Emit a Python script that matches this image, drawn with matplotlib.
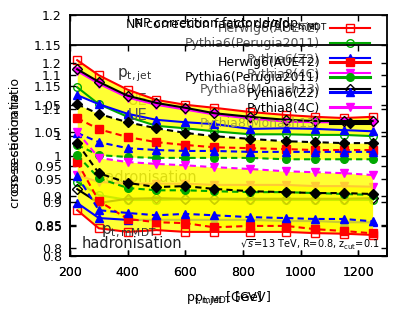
import numpy as np
import matplotlib.pyplot as plt
from matplotlib.lines import Line2D
from matplotlib.ticker import MultipleLocator, FormatStrFormatter

# bin centres [GeV]
pt = [225, 300, 400, 500, 600, 700, 825, 950, 1050, 1150, 1250]
generators = ["Herwig6(AUET2)", "Pythia6(Perugia2011)", "Pythia6(Z2)",
              "Pythia8(4C)", "Pythia8(Monash13)"]

# p_t,jet : UE correction (solid)
jet_ue_herwig = [1.125, 1.100, 1.076, 1.059, 1.051, 1.046, 1.039, 1.034, 1.031, 1.029, 1.031]
jet_ue_perugia = [1.080, 1.052, 1.031, 1.016, 1.012, 1.007, 1.002, 1.002, 1.001, 1.001, 0.999]
jet_ue_z2 = [1.067, 1.052, 1.036, 1.026, 1.022, 1.019, 1.011, 1.012, 1.011, 1.009, 1.007]
jet_ue_4c = [1.107, 1.086, 1.063, 1.051, 1.043, 1.035, 1.028, 1.023, 1.022, 1.022, 1.021]
jet_ue_monash = [1.110, 1.089, 1.066, 1.054, 1.046, 1.037, 1.031, 1.026, 1.024, 1.024, 1.024]

# p_t,jet : hadronisation correction (solid)
jet_had_herwig = [0.876, 0.846, 0.840, 0.843, 0.840, 0.840, 0.840, 0.840, 0.838, 0.837, 0.835]
jet_had_perugia = [0.923, 0.901, 0.893, 0.893, 0.894, 0.894, 0.893, 0.893, 0.893, 0.893, 0.893]
jet_had_z2 = [0.888, 0.863, 0.860, 0.860, 0.860, 0.860, 0.860, 0.858, 0.858, 0.856, 0.856]
jet_had_4c = [0.934, 0.923, 0.920, 0.920, 0.920, 0.918, 0.918, 0.918, 0.916, 0.916, 0.915]
jet_had_monash = [0.911, 0.888, 0.895, 0.896, 0.895, 0.895, 0.895, 0.895, 0.895, 0.895, 0.896]

# p_t,mMDT : UE correction (dashed)
mmdt_ue_herwig = [1.081, 1.057, 1.040, 1.029, 1.023, 1.018, 1.016, 1.014, 1.012, 1.012, 1.012]
mmdt_ue_perugia = [1.023, 1.001, 0.997, 0.995, 0.995, 0.995, 0.995, 0.992, 0.992, 0.992, 0.992]
mmdt_ue_z2 = [1.049, 1.029, 1.016, 1.012, 1.010, 1.010, 1.008, 1.008, 1.008, 1.008, 1.008]
mmdt_ue_monash = [1.111, 1.090, 1.072, 1.059, 1.049, 1.042, 1.036, 1.031, 1.029, 1.027, 1.027]

# p_t,mMDT : hadronisation correction (dashed)
mmdt_had_herwig = [0.986, 0.902, 0.863, 0.856, 0.854, 0.845, 0.848, 0.848, 0.841, 0.837, 0.832]
mmdt_had_perugia = [1.001, 0.951, 0.930, 0.925, 0.925, 0.923, 0.921, 0.921, 0.919, 0.917, 0.915]
mmdt_had_z2 = [0.956, 0.882, 0.876, 0.871, 0.874, 0.871, 0.867, 0.865, 0.863, 0.863, 0.858]
mmdt_had_4c = [1.051, 0.995, 0.986, 0.982, 0.979, 0.975, 0.971, 0.966, 0.964, 0.962, 0.958]
mmdt_had_monash = [1.027, 0.962, 0.941, 0.932, 0.934, 0.928, 0.923, 0.921, 0.919, 0.919, 0.917]

colors = ["#ff0000", "#00a800", "#0000ff", "#ff00ff", "#000000"]
markers = ["s", "o", "^", "v", "D"]
jet_open = ["none", "none", None, None, "none"]

W, H = 411, 319


def box(l, t, r, b):
    return [l / W, 1 - b / H, (r - l) / W, (b - t) / H]


def style(ax, ylim):
    ax.set_xlim(200, 1300)
    ax.set_ylim(*ylim)
    ax.xaxis.set_major_locator(MultipleLocator(200))
    ax.yaxis.set_major_locator(MultipleLocator(0.05))
    ax.yaxis.set_major_formatter(FormatStrFormatter('%g'))
    ax.tick_params(direction='in', top=True, right=True, length=4, width=1,
                   labelsize=9)
    ax.tick_params(axis='x', pad=7)
    ax.tick_params(axis='y', pad=6)
    for s in ax.spines.values():
        s.set_linewidth(1.3)
    ax.set_ylabel("cross-section ratio", fontsize=9)
    ax.yaxis.set_label_coords(-0.152, 0.5)


fig = plt.figure(figsize=(4.11, 3.19), dpi=100)
ax_jet = fig.add_axes(box(70, 15, 387, 256))
ax_mmdt = fig.add_axes(box(70, 45, 387, 256))
ax_mmdt.patch.set_alpha(0)

style(ax_jet, (0.8, 1.2))
style(ax_mmdt, (0.783, 1.239))
ax_jet.set_xlabel(r"p$_\mathregular{t,jet}$ [GeV]", fontsize=9, labelpad=8)
ax_mmdt.set_xlabel(r"p$_\mathregular{t,mMDT}$ [GeV]", fontsize=9, labelpad=8)

band = dict(color="#ffff00", alpha=0.8, lw=0, zorder=1)

# --- p_t,jet plot
jet_ue = [jet_ue_herwig, jet_ue_perugia, jet_ue_z2, jet_ue_4c, jet_ue_monash]
jet_had = [jet_had_herwig, jet_had_perugia, jet_had_z2, jet_had_4c, jet_had_monash]
ax_jet.text(0.148, 0.751, r"p$_\mathregular{t,jet}$", transform=ax_jet.transAxes,
            fontsize=11, va='center', color="#333333", zorder=0.5)
ax_jet.text(0.183, 0.647, "UE", transform=ax_jet.transAxes, fontsize=10.5,
            va='center', color="#555555", zorder=0.5)
ax_jet.text(0.085, 0.324, "hadronisation", transform=ax_jet.transAxes, fontsize=10.5,
            va='center', color="#555555", zorder=0.5)
ax_jet.fill_between(pt, np.max(jet_ue, axis=0), np.min(jet_ue, axis=0), **band)
ax_jet.fill_between(pt, np.max(jet_had, axis=0), np.min(jet_had, axis=0), **band)
for i in range(5):
    ax_jet.plot(pt, jet_ue[i], color=colors[i], marker=markers[i], ms=5.5,
                mfc=jet_open[i], lw=1.5, label=generators[i], zorder=3)
    ax_jet.plot(pt, jet_had[i], color=colors[i], marker=markers[i], ms=5.5,
                mfc=jet_open[i], lw=1.5, zorder=3)
leg_a = ax_jet.legend(loc='upper right', bbox_to_anchor=(370 / W, 1 - 22 / H),
                      bbox_transform=fig.transFigure, frameon=False, fontsize=9,
                      markerfirst=False, handlelength=3.2, handletextpad=0.8,
                      labelspacing=0.18, borderpad=0, borderaxespad=0)
for t in leg_a.get_texts():
    t.set_color("#555555")

# --- p_t,mMDT plot
mmdt_ue = [mmdt_ue_herwig, mmdt_ue_perugia, mmdt_ue_z2, mmdt_ue_monash]
mmdt_ue_idx = [0, 1, 2, 4]
mmdt_had = [mmdt_had_herwig, mmdt_had_perugia, mmdt_had_z2, mmdt_had_4c, mmdt_had_monash]
ax_mmdt.text(0.183, 0.668, "UE", transform=ax_mmdt.transAxes, fontsize=10.5,
             va='center', color="#555555", zorder=0.5)
ax_mmdt.text(0.098, 0.114, r"p$_\mathregular{t,mMDT}$", transform=ax_mmdt.transAxes,
             fontsize=11, va='center', color="#333333", zorder=4)
ax_mmdt.text(0.038, 0.057, "hadronisation", transform=ax_mmdt.transAxes,
             fontsize=10.5, va='center', color="#222222", zorder=4)
ax_mmdt.text(0.978, 0.052, r"$\sqrt{s}$=13 TeV, R=0.8, z$_\mathregular{cut}$=0.1",
             transform=ax_mmdt.transAxes, fontsize=7, ha='right', va='center', zorder=4)
ax_mmdt.fill_between(pt, np.max(mmdt_ue, axis=0), np.min(mmdt_ue, axis=0), **band)
ax_mmdt.fill_between(pt, np.max(mmdt_had, axis=0), np.min(mmdt_had, axis=0), **band)
for k, i in enumerate(mmdt_ue_idx):
    ax_mmdt.plot(pt, mmdt_ue[k], color=colors[i], marker=markers[i], ms=5.5,
                 lw=1.5, ls=(0, (3, 2)), zorder=3)
for i in range(5):
    ax_mmdt.plot(pt, mmdt_had[i], color=colors[i], marker=markers[i], ms=5.5,
                 lw=1.5, ls=(0, (3, 2)), zorder=3)
handles_b = [Line2D([], [], color=colors[i], marker=markers[i], ms=5.5, lw=2.2)
             for i in range(5)]
leg_b = ax_mmdt.legend(handles_b, generators, loc='upper right',
                       bbox_to_anchor=(370 / W, 1 - 56 / H),
                       bbox_transform=fig.transFigure, frameon=False, fontsize=9,
                       markerfirst=False, handlelength=3.2, handletextpad=0.8,
                       labelspacing=0.18, borderpad=0, borderaxespad=0)
leg_b.get_texts()[4].set_color("#a8a838")

fig.text(226 / W, 1 - 25 / H, r"NP correction factor d$\sigma$/dp$_\mathregular{t,jet}$",
         ha='center', va='center', fontsize=9)
fig.text(226 / W, 1 - 25 / H, r"NP correction factor d$\sigma$/dp$_\mathregular{t,mMDT}$",
         ha='center', va='center', fontsize=9)

fig.savefig("out.png", dpi=100)
